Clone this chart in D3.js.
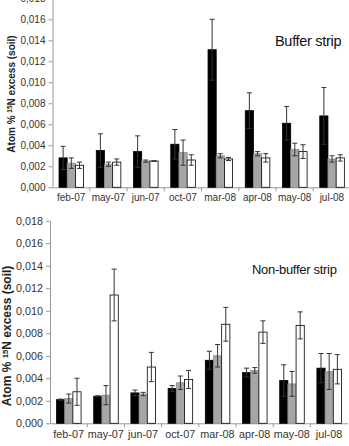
<!DOCTYPE html>
<html>
<head>
<meta charset="utf-8">
<script src="https://d3js.org/d3.v7.min.js"></script>
<style>
  body { margin: 0; background: #fff; }
  svg { display: block; font-family: "Liberation Sans", Arial, sans-serif; }
</style>
</head>
<body>
<svg width="349" height="446"></svg>
<script>
"use strict";

var months = ["feb-07", "may-07", "jun-07", "oct-07", "mar-08", "apr-08", "may-08", "jul-08"];
var series = ["s1", "s2", "s3"];
var yTicks = [0, 0.002, 0.004, 0.006, 0.008, 0.010, 0.012, 0.014, 0.016, 0.018];

// buffer strip
var bufBlack    = [0.0028, 0.0035, 0.0034, 0.0041, 0.0131, 0.0073, 0.0061, 0.0068];
var bufBlackErr = [0.0011, 0.0016, 0.0015, 0.0014, 0.0029, 0.0017, 0.0016, 0.0027];
var bufGray     = [0.0023, 0.0022, 0.0025, 0.0033, 0.0030, 0.0032, 0.0036, 0.0027];
var bufGrayErr  = [0.0005, 0.0002, 0.0001, 0.0012, 0.0002, 0.0002, 0.0006, 0.0003];
var bufWhite    = [0.0021, 0.0024, 0.0025, 0.0026, 0.0027, 0.0028, 0.0034, 0.0028];
var bufWhiteErr = [0.0003, 0.0003, 0.00003, 0.0005, 0.00015, 0.0004, 0.00065, 0.0003];

// non-buffer strip
var nbBlack    = [0.0021, 0.0024, 0.0027, 0.0031, 0.0056, 0.0045, 0.0038, 0.0049];
var nbBlackErr = [0.00005, 0.00005, 0.00025, 0.00025, 0.0008, 0.0004, 0.0014, 0.0013];
var nbGray     = [0.0022, 0.0025, 0.0026, 0.0036, 0.0060, 0.0047, 0.0035, 0.0046];
var nbGrayErr  = [0.0004, 0.00085, 0.00015, 0.0006, 0.0010, 0.00025, 0.0011, 0.0016];
var nbWhite    = [0.0028, 0.0114, 0.0050, 0.0039, 0.0088, 0.0081, 0.0087, 0.0048];
var nbWhiteErr = [0.0012, 0.0023, 0.0013, 0.0008, 0.0015, 0.0010, 0.0012, 0.0013];

var fills = { s1: "#000000", s2: "#a6a6a6", s3: "#ffffff" };
var strokes = { s1: "#000000", s2: "#8c8c8c", s3: "#000000" };

var fmt = d3.formatLocale({ decimal: ",", thousands: ".", grouping: [3], currency: ["", ""] }).format(".3f");

var svg = d3.select("svg");

function drawPanel(opt) {
  var g = svg.append("g");

  var y = d3.scaleLinear().domain([0, 0.018]).range([opt.y0, opt.y1]);
  var x0 = d3.scaleBand().domain(months).range([opt.xLeft, opt.xLeft + opt.band * months.length]);
  var x1 = d3.scaleBand().domain(series).range([opt.band * 0.175, opt.band * 0.835]);

  // y axis
  var yAxis = d3.axisLeft(y).tickValues(yTicks).tickFormat(fmt).tickSize(4).tickSizeOuter(0);
  var ya = g.append("g").attr("transform", "translate(" + opt.xLeft + ",0)").call(yAxis);
  ya.select(".domain").attr("stroke", "#999");
  ya.selectAll(".tick line").attr("stroke", "#999");
  ya.selectAll(".tick text").attr("fill", "#333").attr("font-size", opt.tickFont + "px").attr("x", -7);

  // x axis
  var xAxis = d3.axisBottom(x0).tickSize(0).tickSizeOuter(0);
  var xa = g.append("g").attr("transform", "translate(0," + opt.y0 + ")").call(xAxis);
  xa.select(".domain").attr("stroke", "#999");
  xa.selectAll(".tick text").attr("fill", "#333").attr("font-size", opt.tickFont + "px").attr("dy", "1.05em");
  // separators between categories
  g.append("g").selectAll("line")
    .data(months.slice(1))
    .enter().append("line")
      .attr("x1", function(d) { return x0(d); })
      .attr("x2", function(d) { return x0(d); })
      .attr("y1", opt.y0)
      .attr("y2", opt.y0 + 4)
      .attr("stroke", "#999");

  var rows = [];
  months.forEach(function(m, i) {
    opt.data.forEach(function(s, j) {
      rows.push({ month: m, key: series[j], v: s.v[i], e: s.e[i] });
    });
  });

  g.append("g").selectAll("rect")
    .data(rows)
    .enter().append("rect")
      .attr("x", function(d) { return x0(d.month) + x1(d.key); })
      .attr("y", function(d) { return y(d.v); })
      .attr("width", x1.bandwidth())
      .attr("height", function(d) { return y(0) - y(d.v); })
      .attr("fill", function(d) { return fills[d.key]; })
      .attr("stroke", function(d) { return strokes[d.key]; })
      .attr("stroke-width", 0.8);

  var err = g.append("g").selectAll("g")
    .data(rows)
    .enter().append("g")
      .attr("stroke", "#333")
      .attr("stroke-width", 1);

  function cx(d) { return x0(d.month) + x1(d.key) + x1.bandwidth() / 2; }

  err.append("line")
    .attr("x1", cx).attr("x2", cx)
    .attr("y1", function(d) { return y(d.v + d.e); })
    .attr("y2", function(d) { return y(d.v - d.e); });
  err.append("line")
    .attr("x1", function(d) { return cx(d) - 2.5; })
    .attr("x2", function(d) { return cx(d) + 2.5; })
    .attr("y1", function(d) { return y(d.v + d.e); })
    .attr("y2", function(d) { return y(d.v + d.e); });
  err.append("line")
    .attr("x1", function(d) { return cx(d) - 2.5; })
    .attr("x2", function(d) { return cx(d) + 2.5; })
    .attr("y1", function(d) { return y(d.v - d.e); })
    .attr("y2", function(d) { return y(d.v - d.e); });

  // panel title
  g.append("text")
    .attr("x", opt.titleX)
    .attr("y", opt.titleY)
    .attr("font-size", opt.titleFont + "px")
    .attr("letter-spacing", "-0.3px")
    .attr("fill", "#111")
    .text(opt.title);

  // y label
  var lab = g.append("text")
    .attr("transform", "translate(" + opt.labX + "," + opt.labY + ") rotate(-90)")
    .attr("text-anchor", "middle")
    .attr("font-weight", "bold")
    .attr("font-size", opt.labFont + "px")
    .attr("fill", "#222");
  lab.append("tspan").text("Atom % ");
  lab.append("tspan").attr("font-size", (opt.labFont * 0.65) + "px").attr("dy", "-0.4em").text("15");
  lab.append("tspan").attr("dy", "0.26em").text("N excess (soil)");
}

drawPanel({
  y0: 187.3, y1: -1.7, xLeft: 52.5, band: 37.25,
  tickFont: 10, titleFont: 14.5, title: "Buffer strip", titleX: 275, titleY: 46,
  labX: 15, labY: 94, labFont: 10,
  data: [
    { v: bufBlack, e: bufBlackErr },
    { v: bufGray, e: bufGrayErr },
    { v: bufWhite, e: bufWhiteErr }
  ]
});

drawPanel({
  y0: 423.3, y1: 220.7, xLeft: 50, band: 37.2,
  tickFont: 10.8, titleFont: 13, title: "Non-buffer strip", titleX: 252, titleY: 274,
  labX: 11, labY: 336, labFont: 12,
  data: [
    { v: nbBlack, e: nbBlackErr },
    { v: nbGray, e: nbGrayErr },
    { v: nbWhite, e: nbWhiteErr }
  ]
});
</script>
</body>
</html>
